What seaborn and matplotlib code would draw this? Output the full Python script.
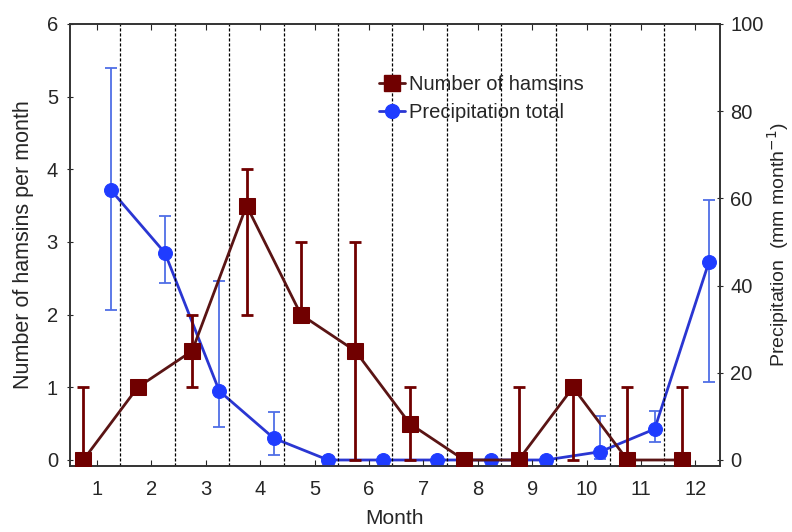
import numpy as np
import matplotlib
matplotlib.use("Agg")
import matplotlib.pyplot as plt
from matplotlib.lines import Line2D
import seaborn as sns

# data
months = np.arange(1, 13)
hamsins = [0, 1, 1.5, 3.5, 2, 1.5, 0.5, 0, 0, 1, 0, 0]
hamsins_low = [0, 1, 1, 2, 2, 0, 0, 0, 0, 0, 0, 0]
hamsins_high = [1, 1, 2, 4, 3, 3, 1, 0, 1, 1, 1, 1]
precip = [62, 47.5, 15.8, 5.0, 0, 0, 0, 0, 0, 1.9, 7.1, 45.5]
precip_low = [34.3, 40.7, 7.5, 1.2, 0, 0, 0, 0, 0, 0.3, 4.1, 17.8]
precip_high = [90, 56, 41, 11, 0, 0, 0, 0, 0, 10, 11.2, 59.7]

red = "#700000"
red_line = "#5a1414"
blue = "#1f3cff"
blue_line = "#2a36d2"
blue_err = "#4f6ee6"


def main():
    sns.set_style("ticks")
    plt.rcParams["font.family"] = ["Liberation Sans", "DejaVu Sans"]

    fig, ax = plt.subplots(figsize=(7.92, 5.32), dpi=100)
    fig.subplots_adjust(left=0.088, right=0.909, top=0.955, bottom=0.124)
    ax2 = ax.twinx()

    # dashed month separators
    for m in months[:-1]:
        ax.axvline(m + 0.43, color="black", lw=0.9, ls=(0, (2.5, 1.5)), zorder=1)

    xh = months - 0.25
    xp = months + 0.25

    # hamsins
    h = np.array(hamsins)
    yerr_h = [h - np.array(hamsins_low), np.array(hamsins_high) - h]
    ax.errorbar(xh, h, yerr=yerr_h, fmt="none", ecolor=red, elinewidth=2,
                capsize=4, capthick=2, zorder=3)
    sns.lineplot(x=xh, y=h, ax=ax, color=red_line, lw=2, marker="s",
                 markersize=12, markerfacecolor=red, markeredgecolor=red,
                 zorder=4, legend=False)

    # precipitation
    p = np.array(precip)
    yerr_p = [p - np.array(precip_low), np.array(precip_high) - p]
    ax2.errorbar(xp, p, yerr=yerr_p, fmt="none", ecolor=blue_err, elinewidth=1.3,
                 capsize=4, capthick=1.3, zorder=3)
    sns.lineplot(x=xp, y=p, ax=ax2, color=blue_line, lw=2, marker="o",
                 markersize=10, markerfacecolor=blue, markeredgecolor=blue,
                 zorder=4, legend=False)

    ax.set_xlim(0.5, 12.45)
    ax.set_ylim(-0.083, 6)
    ax2.set_ylim(-0.083 * 100 / 6, 100)
    ax.set_xticks(months)
    ax.set_yticks(range(0, 7))
    ax2.set_yticks(range(0, 101, 20))

    ax.tick_params(axis="x", direction="in", top=True, length=4, labelsize=14.5, pad=10)
    ax.tick_params(axis="y", direction="inout", length=5, labelsize=14.5, pad=6)
    ax2.tick_params(axis="y", direction="inout", length=5, labelsize=14.5, pad=5)

    for a in (ax, ax2):
        for s in a.spines.values():
            s.set_color("#333333")
            s.set_linewidth(1.2)

    ax.set_xlabel("Month", fontsize=15, labelpad=7)
    ax.set_ylabel("Number of hamsins per month", fontsize=15.5, labelpad=9)
    ax2.set_ylabel("Precipitation  (mm month$^{-1}$)", fontsize=14, labelpad=1)

    # legend
    handles = [
        Line2D([], [], color=red_line, lw=2, marker="s", markersize=12,
               markerfacecolor=red, markeredgecolor=red),
        Line2D([], [], color=blue_line, lw=2, marker="o", markersize=10,
               markerfacecolor=blue, markeredgecolor=blue),
    ]
    ax.legend(handles, ["Number of hamsins", "Precipitation total"],
              loc="upper left", bbox_to_anchor=(0.448, 0.925), frameon=False,
              fontsize=14.5, handlelength=1.3, handletextpad=0.2, labelspacing=0.45)

    ax.set_zorder(ax2.get_zorder() + 1)
    ax.patch.set_visible(False)

    plt.savefig("out.png", dpi=100)


if __name__ == "__main__":
    main()
